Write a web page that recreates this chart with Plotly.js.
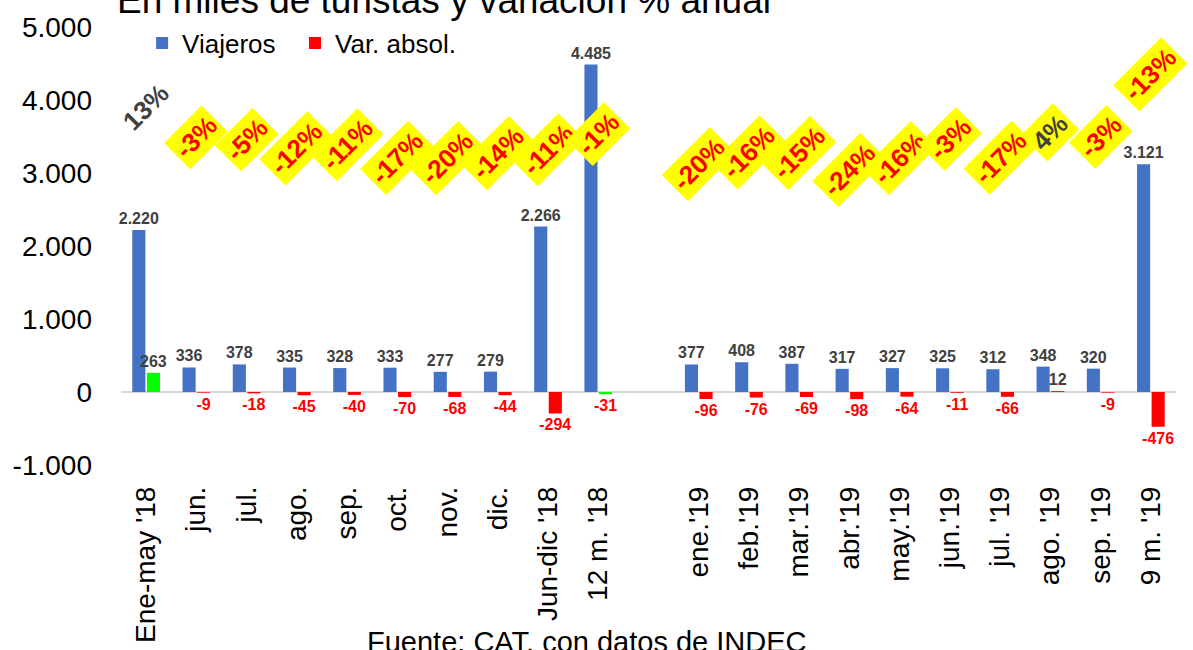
<!DOCTYPE html>
<html>
<head>
<meta charset="utf-8">
<script src="https://cdn.plot.ly/plotly-3.0.1.min.js"></script>
<style>
  html, body { margin: 0; padding: 0; background: #ffffff; }
  #chart { width: 1193px; height: 650px; }
</style>
</head>
<body>
<div id="chart"></div>
<script>
// ---- Data ----
const categories = ["Ene-may '18", "jun.", "jul.", "ago.", "sep.", "oct.", "nov.", "dic.",
  "Jun-dic '18", "12 m. '18", " ", "ene.'19", "feb.'19", "mar.'19", "abr.'19", "may.'19",
  "jun.'19", "jul. '19", "ago. '19", "sep. '19", "9 m. '19"];
const viajeros = [2220, 336, 378, 335, 328, 333, 277, 279, 2266, 4485, null,
  377, 408, 387, 317, 327, 325, 312, 348, 320, 3121];
const varAbsol = [263, -9, -18, -45, -40, -70, -68, -44, -294, -31, null,
  -96, -76, -69, -98, -64, -11, -66, 12, -9, -476];
const varPct = [13, -3, -5, -12, -11, -17, -20, -14, -11, -1, null,
  -20, -16, -15, -24, -16, -3, -17, 4, -3, -13];
const yTickValues = [-1000, 0, 1000, 2000, 3000, 4000, 5000];

// ---- Layout helpers (label placement, not data) ----
const pctLabelHeight = [3900, 3490, 3450, 3340, 3380, 3200, 3200, 3280, 3310, 3540, null,
  3130, 3290, 3270, 3040, 3210, 3470, 3210, 3560, 3490, 4350];
const totalsIdx = [0, 9]; // bars drawn in green in the reference

const BLUE = '#4472C4', RED = '#FF0000', GREEN = '#00FF00', GRAY = '#404040';
const FONT = 'Liberation Sans, Arial, sans-serif';

function fmt(n) {
  if (n === null || n === undefined) return '';
  const s = Math.abs(n).toString().replace(/\B(?=(\d{3})+(?!\d))/g, '.');
  return (n < 0 ? '-' : '') + s;
}

const traceViajeros = {
  type: 'bar', name: 'Viajeros\u00A0\u00A0', x: categories, y: viajeros,
  offsetgroup: 'a',
  marker: { color: BLUE },
  text: viajeros.map(fmt), textposition: 'outside', constraintext: 'none',
  cliponaxis: false,
  textfont: { family: FONT, size: 16, color: GRAY, weight: 'bold' },
  hoverinfo: 'skip'
};
const traceVar = {
  type: 'bar', name: 'Var. absol.', x: categories, y: varAbsol,
  offsetgroup: 'b', showlegend: false,
  marker: { color: varAbsol.map((v, i) => totalsIdx.includes(i) ? GREEN : RED) },
  text: varAbsol.map(fmt), textposition: 'outside', constraintext: 'none',
  cliponaxis: false,
  textfont: { family: FONT, size: 16, weight: 'bold',
    color: varAbsol.map(v => (v !== null && v > 0) ? GRAY : RED) },
  hoverinfo: 'skip'
};
// legend entry for the variation series (red swatch)
const traceVarLegend = {
  type: 'bar', name: 'Var. absol.', x: categories, y: categories.map(() => null),
  offsetgroup: 'b', marker: { color: RED }, hoverinfo: 'skip'
};

const annotations = [];
varPct.forEach((p, i) => {
  if (p === null) return;
  annotations.push({
    xref: 'x', yref: 'y', x: categories[i], y: pctLabelHeight[i],
    xanchor: 'center', yanchor: 'middle', showarrow: false,
    text: '<b>' + (p > 0 ? '' : '-') + Math.abs(p) + '%</b>',
    textangle: -45,
    font: { family: FONT, size: 26, color: p > 0 ? GRAY : RED },
    bgcolor: i === 0 ? 'rgba(0,0,0,0)' : '#FFFF00',
    borderpad: 3
  });
});
annotations.push({
  xref: 'paper', yref: 'paper', x: -0.006, y: 1.06, xanchor: 'left', yanchor: 'middle',
  showarrow: false, text: 'En miles de turistas y variación % anual',
  font: { family: FONT, size: 37, color: '#000000' }
});
annotations.push({
  xref: 'paper', yref: 'paper', x: 0.442, y: -0.405, xanchor: 'center', yanchor: 'middle',
  showarrow: false, text: 'Fuente: CAT, con datos de INDEC',
  font: { family: FONT, size: 29, color: '#000000' }
});

const layout = {
  width: 1193, height: 650,
  margin: { l: 121, r: 17, t: 27, b: 185 },
  paper_bgcolor: '#ffffff', plot_bgcolor: '#ffffff',
  barmode: 'group', bargap: 0.42, bargroupgap: 0.1,
  showlegend: true,
  legend: {
    orientation: 'h', x: 0.02, y: 1.017, xanchor: 'left', yanchor: 'top',
    font: { family: FONT, size: 26, color: '#000000' },
    bgcolor: 'rgba(0,0,0,0)'
  },
  xaxis: {
    type: 'category', categoryorder: 'array', categoryarray: categories,
    range: [-0.5, categories.length - 0.5], autorange: false,
    tickangle: -90, showgrid: false, showline: false, zeroline: false, ticks: '',
    tickfont: { family: FONT, size: 28, color: '#000000' },
    ticklabelstandoff: 15, automargin: false
  },
  yaxis: {
    range: [-1000, 5000], tickvals: yTickValues, ticktext: yTickValues.map(fmt),
    showgrid: false, showline: false, ticks: '',
    zeroline: true, zerolinecolor: '#D9D9D9', zerolinewidth: 1.5,
    tickfont: { family: FONT, size: 28, color: '#000000' },
    ticklabelstandoff: 28, automargin: false
  },
  annotations: annotations
};

Plotly.newPlot('chart', [traceViajeros, traceVar, traceVarLegend], layout, { staticPlot: true, displayModeBar: false });
</script>
</body>
</html>
